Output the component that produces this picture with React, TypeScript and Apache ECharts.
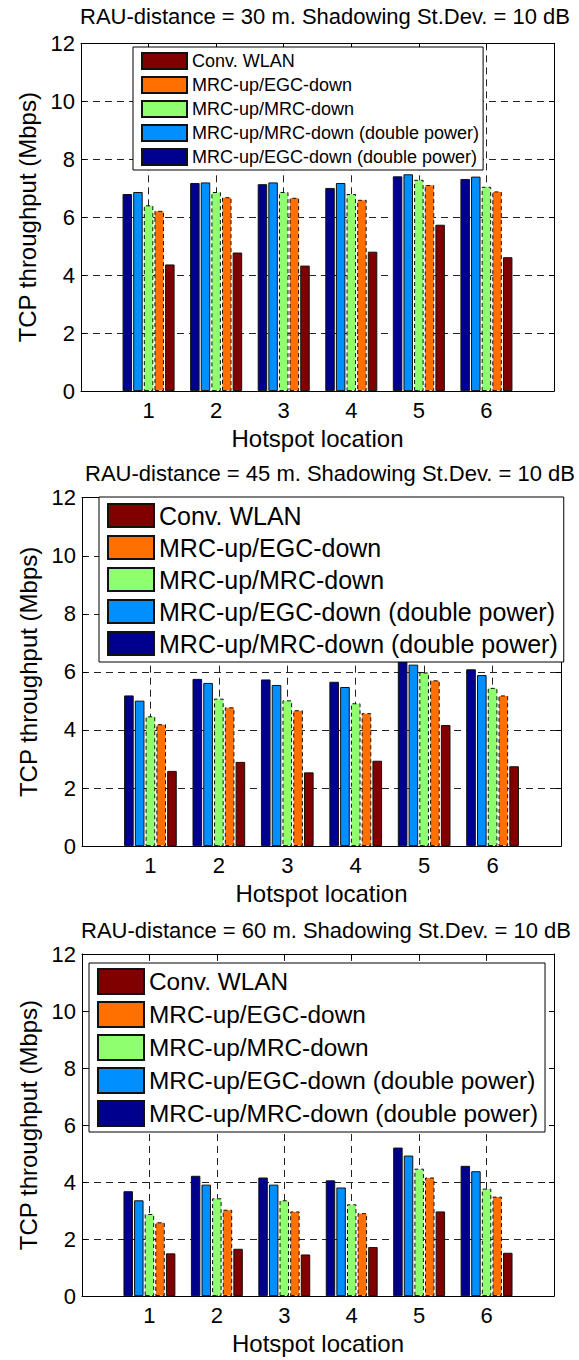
import React, { useEffect, useRef } from "react";
import * as echarts from "echarts";

// ---------- data ----------
const hotspots = [1, 2, 3, 4, 5, 6];

const titles = [
  "RAU-distance = 30 m. Shadowing St.Dev. = 10 dB",
  "RAU-distance = 45 m. Shadowing St.Dev. = 10 dB",
  "RAU-distance = 60 m. Shadowing St.Dev. = 10 dB",
];

const xAxisName = "Hotspot location";
const yAxisName = "TCP throughput (Mbps)";

const nameConv = "Conv. WLAN";
const nameEgc = "MRC-up/EGC-down";
const nameMrc = "MRC-up/MRC-down";
const nameEgcDp = "MRC-up/EGC-down (double power)";
const nameMrcDp = "MRC-up/MRC-down (double power)";

// bars left-to-right: navy, light blue, green, orange, dark red
const p1Names = [nameEgcDp, nameMrcDp, nameMrc, nameEgc, nameConv];
const p1Navy = [6.8, 7.18, 7.14, 7.01, 7.41, 7.32];
const p1Light = [6.87, 7.2, 7.2, 7.18, 7.48, 7.4];
const p1Green = [6.41, 6.87, 6.87, 6.8, 7.29, 7.05];
const p1Orange = [6.22, 6.69, 6.67, 6.6, 7.11, 6.89];
const p1Red = [4.37, 4.78, 4.33, 4.81, 5.74, 4.62];

const p2Names = [nameMrcDp, nameEgcDp, nameMrc, nameEgc, nameConv];
const p2Navy = [5.19, 5.76, 5.74, 5.66, 6.45, 6.09];
const p2Light = [5.01, 5.62, 5.55, 5.48, 6.25, 5.89];
const p2Green = [4.47, 5.08, 5.02, 4.92, 5.98, 5.45];
const p2Orange = [4.2, 4.78, 4.68, 4.58, 5.71, 5.19];
const p2Red = [2.59, 2.9, 2.54, 2.94, 4.17, 2.75];

const p3Names = [nameMrcDp, nameEgcDp, nameMrc, nameEgc, nameConv];
const p3Navy = [3.68, 4.22, 4.16, 4.06, 5.21, 4.57];
const p3Light = [3.36, 3.91, 3.91, 3.81, 4.93, 4.38];
const p3Green = [2.88, 3.43, 3.36, 3.22, 4.47, 3.77];
const p3Orange = [2.59, 3.03, 2.97, 2.91, 4.16, 3.49];
const p3Red = [1.5, 1.66, 1.46, 1.72, 2.97, 1.52];

const colors = ["#00008F", "#008FFF", "#8FFF70", "#FF7000", "#800000"];
const dashedEdge = [false, false, true, true, false];

const FONT = "'Liberation Sans', Arial, Helvetica, sans-serif";

type Panel = {
  top: number;
  height: number;
  title: string;
  titleX: number;
  titleY: number;
  names: string[];
  values: number[][];
  grid: { left: number; top: number; width: number; height: number };
  legend: {
    left: number;
    top: number;
    padding: number[];
    itemWidth: number;
    itemHeight: number;
    itemGap: number;
    fontSize: number;
  };
};

const panels: Panel[] = [
  {
    top: 0,
    height: 455,
    title: titles[0],
    titleX: 325,
    titleY: 16,
    names: p1Names,
    values: [p1Navy, p1Light, p1Green, p1Orange, p1Red],
    grid: { left: 81, top: 43.3, width: 473, height: 352.4 },
    legend: { left: 133, top: 47, padding: [5, 4, 4, 8], itemWidth: 45, itemHeight: 16, itemGap: 6, fontSize: 18 },
  },
  {
    top: 455,
    height: 455,
    title: titles[1],
    titleX: 330,
    titleY: 18,
    names: p2Names,
    values: [p2Navy, p2Light, p2Green, p2Orange, p2Red],
    grid: { left: 82, top: 42.7, width: 479, height: 355.3 },
    legend: { left: 99, top: 42, padding: [6, 6, 6, 8], itemWidth: 46, itemHeight: 23, itemGap: 7, fontSize: 25 },
  },
  {
    top: 910,
    height: 450,
    title: titles[2],
    titleX: 326,
    titleY: 20,
    names: p3Names,
    values: [p3Navy, p3Light, p3Green, p3Orange, p3Red],
    grid: { left: 82, top: 44, width: 472, height: 351 },
    legend: { left: 89, top: 53, padding: [5, 7, 5, 8], itemWidth: 46, itemHeight: 25, itemGap: 6, fontSize: 24.4 },
  },
];

function makeOption(p: Panel): any {
  const series = p.values.map((vals, k) => ({
    type: "bar",
    name: p.names[k],
    xAxisIndex: 0,
    yAxisIndex: 0,
    data: hotspots.map((h, i) => [h, vals[i]]),
    barGap: "12%",
    barCategoryGap: "23%",
    itemStyle: {
      color: colors[k],
      borderColor: "#111",
      borderWidth: 1,
      borderType: dashedEdge[k] ? [4, 3] : "solid",
    },
  }));
  const legendData = p.names.slice().reverse();
  const axisLineStyle = { color: "#000", width: 1 };
  const gridDash = { color: "#222", width: 1, type: [7, 5] };
  return {
    animation: false,
    backgroundColor: "#fff",
    graphic: [
      {
        type: "text",
        x: p.titleX,
        y: p.titleY,
        style: {
          text: p.title,
          fontSize: 22,
          fontFamily: FONT,
          fill: "#000",
          textAlign: "center",
          textVerticalAlign: "middle",
          align: "center",
          verticalAlign: "middle",
        },
      },
    ],
    grid: { ...p.grid, containLabel: false },
    legend: {
      orient: "vertical",
      left: p.legend.left,
      top: p.legend.top,
      padding: p.legend.padding,
      itemWidth: p.legend.itemWidth,
      itemHeight: p.legend.itemHeight,
      itemGap: p.legend.itemGap,
      icon: "rect",
      selectedMode: false,
      backgroundColor: "#fff",
      borderColor: "#000",
      borderWidth: 1,
      z: 10,
      data: legendData,
      textStyle: { fontSize: p.legend.fontSize, color: "#000", fontFamily: FONT },
    },
    xAxis: [
      {
        type: "value",
        min: 0,
        max: 7,
        interval: 1,
        position: "bottom",
        axisLine: { show: true, onZero: false, lineStyle: axisLineStyle },
        axisTick: { show: true, inside: true, length: 5, lineStyle: axisLineStyle },
        axisLabel: {
          formatter: (v: number) => (v >= 1 && v <= 6 ? String(v) : ""),
          fontSize: 22,
          color: "#000",
          fontFamily: FONT,
          margin: 8,
        },
        splitLine: { show: true, lineStyle: gridDash },
        name: xAxisName,
        nameLocation: "middle",
        nameGap: 32,
        nameTextStyle: { fontSize: 24, color: "#000", fontFamily: FONT },
      },
      {
        type: "value",
        min: 0,
        max: 7,
        interval: 1,
        position: "top",
        axisLine: { show: true, onZero: false, lineStyle: axisLineStyle },
        axisTick: { show: true, inside: true, length: 5, lineStyle: axisLineStyle },
        axisLabel: { show: false },
        splitLine: { show: false },
      },
    ],
    yAxis: [
      {
        type: "value",
        min: 0,
        max: 12,
        interval: 2,
        position: "left",
        axisLine: { show: true, onZero: false, lineStyle: axisLineStyle },
        axisTick: { show: true, inside: true, length: 5, lineStyle: axisLineStyle },
        axisLabel: { fontSize: 22, color: "#000", fontFamily: FONT, margin: 6 },
        splitLine: { show: true, lineStyle: gridDash },
        name: yAxisName,
        nameLocation: "middle",
        nameRotate: 90,
        nameGap: 40,
        nameTextStyle: { fontSize: 24, color: "#000", fontFamily: FONT },
      },
      {
        type: "value",
        min: 0,
        max: 12,
        interval: 2,
        position: "right",
        axisLine: { show: true, onZero: false, lineStyle: axisLineStyle },
        axisTick: { show: true, inside: true, length: 5, lineStyle: axisLineStyle },
        axisLabel: { show: false },
        splitLine: { show: false },
      },
    ],
    series,
  };
}

function PanelChart({ p }: { p: Panel }) {
  const ref = useRef<HTMLDivElement>(null);
  useEffect(() => {
    if (!ref.current) return;
    const chart = echarts.init(ref.current, undefined, { renderer: "svg" });
    chart.setOption(makeOption(p));
    return () => chart.dispose();
  }, [p]);
  return (
    <div
      ref={ref}
      style={{ position: "absolute", left: 0, top: p.top, width: 579, height: p.height }}
    />
  );
}

export default function App() {
  return (
    <div style={{ position: "absolute", left: 0, top: 0, width: 579, height: 1360, background: "#fff" }}>
      {panels.map((p, i) => (
        <PanelChart key={i} p={p} />
      ))}
    </div>
  );
}
